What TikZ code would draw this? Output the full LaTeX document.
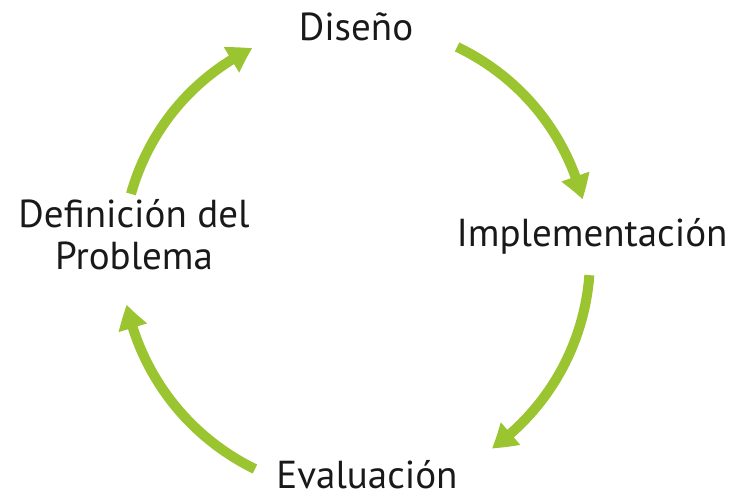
\documentclass[tikz,border=0pt]{standalone}
\usepackage{fontspec}
\setmainfont{PT Sans}
\usetikzlibrary{arrows.meta,bending}
\definecolor{cycgreen}{RGB}{154,196,48}
\tikzset{
  stage/.style={inner sep=0pt,anchor=base,font=\fontsize{39}{42}\selectfont,text=black!90},
  cyc/.style={cycgreen,line width=10pt,-{Triangle[length=24pt,width=28pt,bend]},looseness=0.9}
}
\begin{document}
\begin{tikzpicture}[x=1pt,y=1pt]
                    \useasboundingbox (0,0) rectangle (737,493);
                    \coordinate (c) at (356,235);
                    \node[stage] (dis) at (356,452) {Diseño};
                    \node[stage] (imp) at (592,246) {Implementación};
                    \node[stage] (eva) at (367,4) {Evaluación};
                    \node[stage,align=center] (def) at (134,223) {Definición del\\Problema};

                    \coordinate (a1) at ([shift={(64.4:234)}]c);
                    \coordinate (b1) at ([shift={(14.5:234)}]c);
                    \coordinate (a2) at ([shift={(-4.2:234)}]c);
                    \coordinate (b2) at ([shift={(-54.5:234)}]c);
                    \coordinate (a3) at ([shift={(-115.6:234)}]c);
                    \coordinate (b3) at ([shift={(-168.5:234)}]c);
                    \coordinate (a4) at ([shift={(164.1:234)}]c);
                    \coordinate (b4) at ([shift={(116.3:234)}]c);

                    \draw[cyc] (a1) to[bend left=25] (b1);
                    \draw[cyc] (a2) to[bend left=25] (b2);
                    \draw[cyc] (a3) to[bend left=26] (b3);
                    \draw[cyc] (a4) to[bend left=24] (b4);
                \end{tikzpicture}
\end{document}
